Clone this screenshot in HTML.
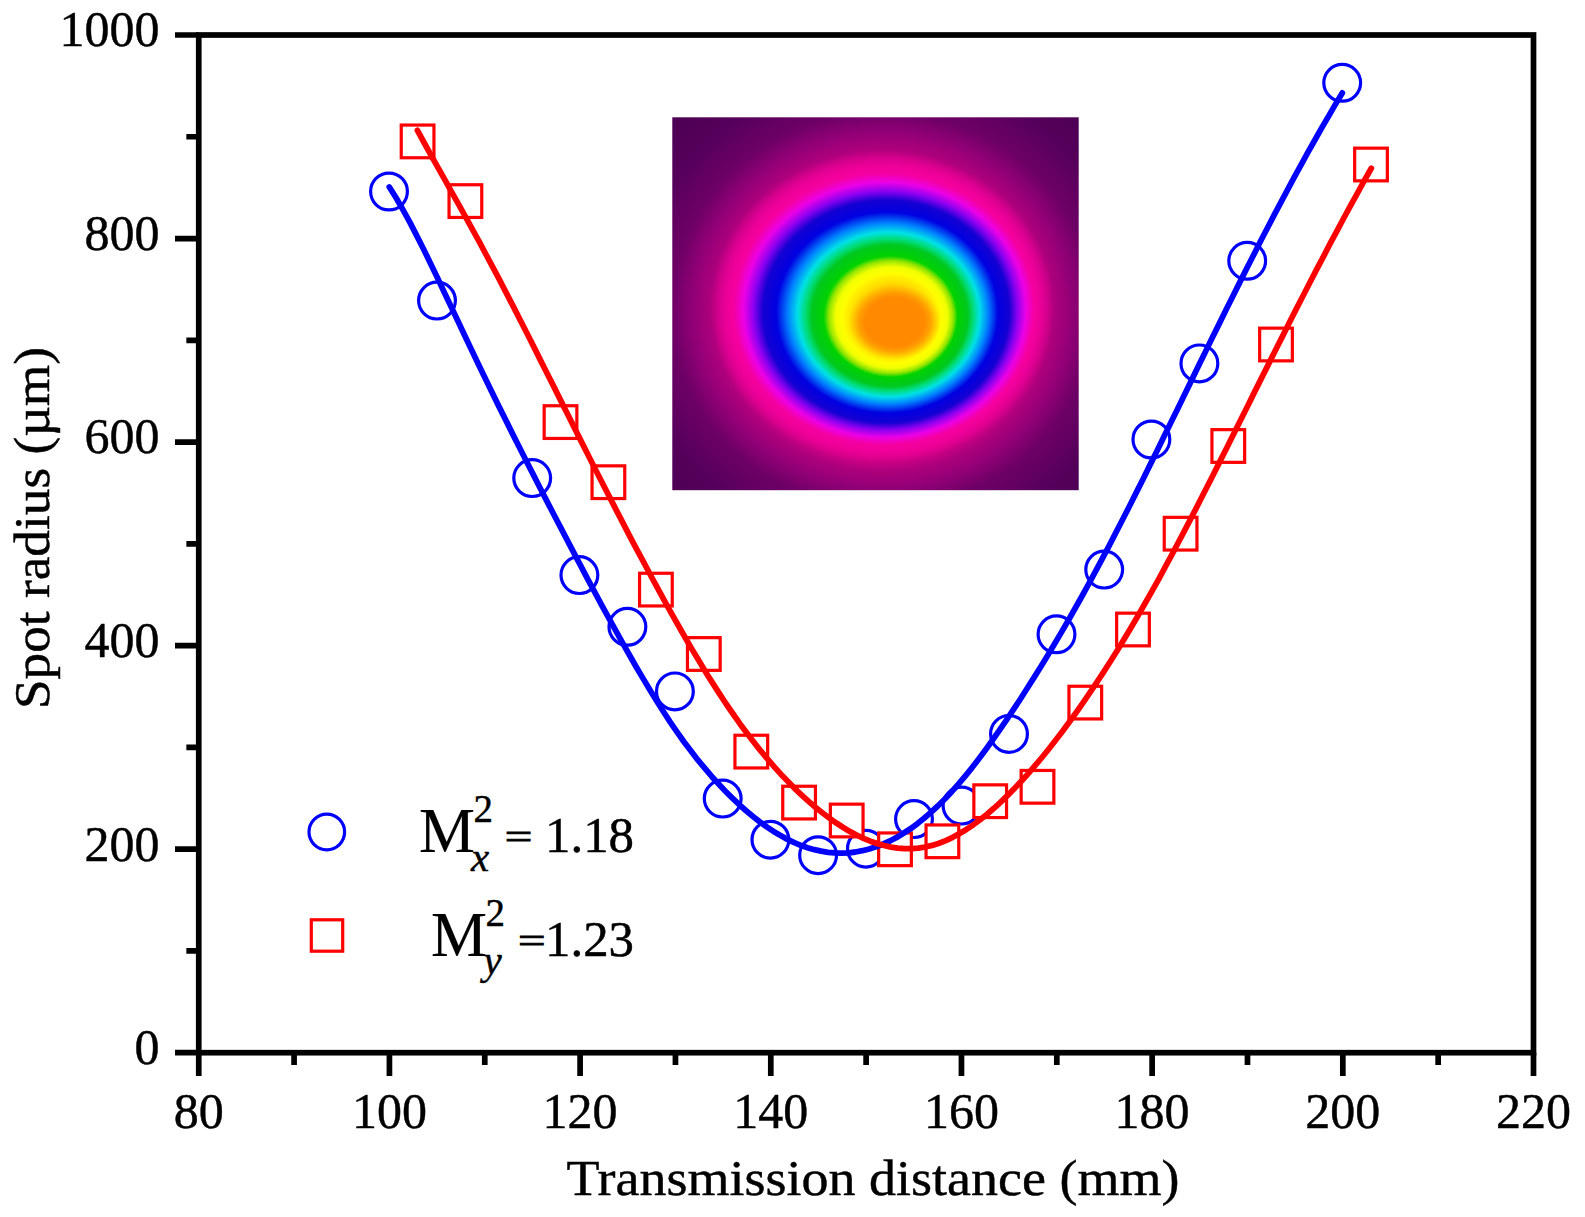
<!DOCTYPE html>
<html lang="en"><head><meta charset="utf-8"><title>Spot radius vs transmission distance</title>
<style>html,body{margin:0;padding:0;background:#fff}svg{display:block}text{font-family:"Liberation Serif",serif;fill:#000;stroke:#000;stroke-width:.45px}</style></head><body>
<svg width="1585" height="1217" viewBox="0 0 1585 1217">
<rect width="1585" height="1217" fill="#fff"/>
<defs>
<radialGradient id="beamo" gradientUnits="userSpaceOnUse" cx="0" cy="0" r="300" gradientTransform="translate(882.5,310) scale(1,0.94)">
<stop offset="0.0000" stop-color="#f500a0"/>
<stop offset="0.4767" stop-color="#f500a0"/>
<stop offset="0.5033" stop-color="#e6008c"/>
<stop offset="0.5300" stop-color="#d20087"/>
<stop offset="0.5700" stop-color="#af007d"/>
<stop offset="0.6333" stop-color="#910076"/>
<stop offset="0.7000" stop-color="#6e0066"/>
<stop offset="0.8333" stop-color="#55005a"/>
<stop offset="1.0000" stop-color="#4b0052"/>
</radialGradient>
<radialGradient id="beami" gradientUnits="userSpaceOnUse" cx="0" cy="0" r="300" fx="24" fy="30" gradientTransform="translate(872,295.5) scale(1,0.905)">
<stop offset="0.0000" stop-color="#ffbe00"/>
<stop offset="0.1133" stop-color="#ffc800"/>
<stop offset="0.1333" stop-color="#ffdc00"/>
<stop offset="0.1533" stop-color="#fff000"/>
<stop offset="0.1667" stop-color="#ffff00"/>
<stop offset="0.1867" stop-color="#f0ff00"/>
<stop offset="0.2067" stop-color="#96e600"/>
<stop offset="0.2233" stop-color="#00d200"/>
<stop offset="0.2600" stop-color="#00c81e"/>
<stop offset="0.2800" stop-color="#00dc78"/>
<stop offset="0.3033" stop-color="#00e1e6"/>
<stop offset="0.3333" stop-color="#0082ff"/>
<stop offset="0.3700" stop-color="#0000e1"/>
<stop offset="0.4100" stop-color="#1400d2"/>
<stop offset="0.4400" stop-color="#8c00f0"/>
<stop offset="0.4700" stop-color="#eb00e6"/>
<stop offset="0.5000" stop-color="#f500a0"/>
<stop offset="0.5267" stop-color="#f500a0" stop-opacity="0.6"/>
<stop offset="0.5733" stop-color="#f500a0" stop-opacity="0"/>
</radialGradient>
<radialGradient id="beamc" gradientUnits="userSpaceOnUse" cx="0" cy="0" r="46" gradientTransform="translate(894.6,322) scale(1,0.82)">
<stop offset="0.0000" stop-color="#ff8800"/>
<stop offset="0.6522" stop-color="#ff8a00"/>
<stop offset="0.7826" stop-color="#ff9600" stop-opacity="0.8"/>
<stop offset="1.0000" stop-color="#ffb400" stop-opacity="0"/>
</radialGradient>
</defs>
<rect x="672.3" y="117.3" width="406.4" height="372.9" fill="url(#beamo)"/>
<rect x="672.3" y="117.3" width="406.4" height="372.9" fill="url(#beami)"/>
<rect x="672.3" y="117.3" width="406.4" height="372.9" fill="url(#beamc)"/>
<g stroke="#000" stroke-width="5.7" fill="none" stroke-linecap="butt">
<rect x="198.75" y="35.0" width="1334.75" height="1017.7"/>
<path d="M175.00,1052.70H198.75M186.35,950.93H198.75M175.00,849.16H198.75M186.35,747.39H198.75M175.00,645.62H198.75M186.35,543.85H198.75M175.00,442.08H198.75M186.35,340.31H198.75M175.00,238.54H198.75M186.35,136.77H198.75M175.00,35.00H198.75M198.75,1052.70V1076.00M294.09,1052.70V1065.00M389.43,1052.70V1076.00M484.77,1052.70V1065.00M580.11,1052.70V1076.00M675.45,1052.70V1065.00M770.79,1052.70V1076.00M866.12,1052.70V1065.00M961.46,1052.70V1076.00M1056.80,1052.70V1065.00M1152.14,1052.70V1076.00M1247.48,1052.70V1065.00M1342.82,1052.70V1076.00M1438.16,1052.70V1065.00M1533.50,1052.70V1076.00"/>
</g>
<g font-size="50">
<text x="159.6" y="1064.0" text-anchor="end" textLength="25.0" lengthAdjust="spacingAndGlyphs">0</text>
<text x="159.6" y="860.5" text-anchor="end" textLength="75.0" lengthAdjust="spacingAndGlyphs">200</text>
<text x="159.6" y="656.9" text-anchor="end" textLength="75.0" lengthAdjust="spacingAndGlyphs">400</text>
<text x="159.6" y="453.4" text-anchor="end" textLength="75.0" lengthAdjust="spacingAndGlyphs">600</text>
<text x="159.6" y="249.8" text-anchor="end" textLength="75.0" lengthAdjust="spacingAndGlyphs">800</text>
<text x="159.6" y="46.3" text-anchor="end" textLength="100.0" lengthAdjust="spacingAndGlyphs">1000</text>
<text x="198.8" y="1127.6" text-anchor="middle" textLength="50.0" lengthAdjust="spacingAndGlyphs">80</text>
<text x="389.4" y="1127.6" text-anchor="middle" textLength="75.0" lengthAdjust="spacingAndGlyphs">100</text>
<text x="580.1" y="1127.6" text-anchor="middle" textLength="75.0" lengthAdjust="spacingAndGlyphs">120</text>
<text x="770.8" y="1127.6" text-anchor="middle" textLength="75.0" lengthAdjust="spacingAndGlyphs">140</text>
<text x="961.5" y="1127.6" text-anchor="middle" textLength="75.0" lengthAdjust="spacingAndGlyphs">160</text>
<text x="1152.1" y="1127.6" text-anchor="middle" textLength="75.0" lengthAdjust="spacingAndGlyphs">180</text>
<text x="1342.8" y="1127.6" text-anchor="middle" textLength="75.0" lengthAdjust="spacingAndGlyphs">200</text>
<text x="1533.5" y="1127.6" text-anchor="middle" textLength="75.0" lengthAdjust="spacingAndGlyphs">220</text>
</g>
<text x="873" y="1194.5" font-size="50.5" text-anchor="middle" textLength="613" lengthAdjust="spacingAndGlyphs">Transmission distance (mm)</text>
<text transform="translate(49.3,528) rotate(-90)" font-size="50.5" text-anchor="middle" textLength="362" lengthAdjust="spacingAndGlyphs">Spot radius (µm)</text>
<g fill="none" stroke="#0000ff" stroke-width="3.2">
<circle cx="389.0" cy="191.5" r="18.4"/>
<circle cx="437.0" cy="300.6" r="18.4"/>
<circle cx="532.2" cy="478.1" r="18.4"/>
<circle cx="579.4" cy="575.1" r="18.4"/>
<circle cx="627.4" cy="626.8" r="18.4"/>
<circle cx="674.9" cy="691.4" r="18.4"/>
<circle cx="722.7" cy="798.6" r="18.4"/>
<circle cx="770.4" cy="839.7" r="18.4"/>
<circle cx="818.1" cy="855.2" r="18.4"/>
<circle cx="865.9" cy="848.7" r="18.4"/>
<circle cx="914.0" cy="819.1" r="18.4"/>
<circle cx="961.5" cy="805.6" r="18.4"/>
<circle cx="1009.0" cy="733.9" r="18.4"/>
<circle cx="1056.5" cy="634.3" r="18.4"/>
<circle cx="1104.2" cy="569.6" r="18.4"/>
<circle cx="1151.4" cy="439.5" r="18.4"/>
<circle cx="1199.4" cy="363.4" r="18.4"/>
<circle cx="1247.2" cy="260.8" r="18.4"/>
<circle cx="1342.2" cy="82.8" r="18.4"/>
<circle cx="326.8" cy="832" r="17.8"/>
</g>
<g fill="#fff" stroke="#ff0000" stroke-width="3.2">
<rect x="401.25" y="125.05" width="32.7" height="32.7"/>
<rect x="449.05" y="184.75" width="32.7" height="32.7"/>
<rect x="544.15" y="405.75" width="32.7" height="32.7"/>
<rect x="592.05" y="465.85" width="32.7" height="32.7"/>
<rect x="639.55" y="573.25" width="32.7" height="32.7"/>
<rect x="687.45" y="637.65" width="32.7" height="32.7"/>
<rect x="734.95" y="735.25" width="32.7" height="32.7"/>
<rect x="782.75" y="786.25" width="32.7" height="32.7"/>
<rect x="830.35" y="804.15" width="32.7" height="32.7"/>
<rect x="878.65" y="832.95" width="32.7" height="32.7"/>
<rect x="926.05" y="824.95" width="32.7" height="32.7"/>
<rect x="973.85" y="784.85" width="32.7" height="32.7"/>
<rect x="1021.15" y="770.45" width="32.7" height="32.7"/>
<rect x="1068.95" y="686.25" width="32.7" height="32.7"/>
<rect x="1116.65" y="613.15" width="32.7" height="32.7"/>
<rect x="1164.25" y="517.35" width="32.7" height="32.7"/>
<rect x="1211.95" y="429.65" width="32.7" height="32.7"/>
<rect x="1259.65" y="328.15" width="32.7" height="32.7"/>
<rect x="1354.65" y="148.15" width="32.7" height="32.7"/>
<rect x="311.3" y="919.8" width="31.4" height="31.4"/>
</g>
<path d="M389.3,187.0 L396.2,198.0 L403.0,209.9 L409.9,222.4 L416.7,235.6 L423.6,249.2 L430.4,263.2 L437.3,277.4 L444.1,291.9 L451.0,306.4 L457.9,320.9 L464.7,335.5 L471.6,349.9 L478.4,364.3 L485.3,378.5 L492.1,392.6 L499.0,406.6 L505.9,420.4 L512.7,434.1 L519.6,447.7 L526.4,461.2 L533.3,474.6 L540.1,488.0 L547.0,501.3 L553.8,514.5 L560.7,527.7 L567.6,540.8 L574.4,553.9 L581.3,566.9 L588.1,579.8 L595.0,592.6 L601.8,605.3 L608.7,617.9 L615.6,630.4 L622.4,642.7 L629.3,654.8 L636.1,666.7 L643.0,678.4 L649.8,689.8 L656.7,701.0 L663.5,711.8 L670.4,722.3 L677.3,732.3 L684.1,742.0 L691.0,751.1 L697.8,759.9 L704.7,768.2 L711.5,776.2 L718.4,783.8 L725.2,791.0 L732.1,797.9 L739.0,804.4 L745.8,810.5 L752.7,816.3 L759.5,821.6 L766.4,826.6 L773.2,831.2 L780.1,835.3 L787.0,839.1 L793.8,842.4 L800.7,845.3 L807.5,847.7 L814.4,849.7 L821.2,851.2 L828.1,852.3 L834.9,852.9 L841.8,853.1 L848.7,852.8 L855.5,852.0 L862.4,850.7 L869.2,849.0 L876.1,846.8 L882.9,844.2 L889.8,841.0 L896.7,837.4 L903.5,833.3 L910.4,828.8 L917.2,823.8 L924.1,818.3 L930.9,812.4 L937.8,806.0 L944.6,799.2 L951.5,791.9 L958.4,784.2 L965.2,776.1 L972.1,767.6 L978.9,758.8 L985.8,749.5 L992.6,740.0 L999.5,730.2 L1006.4,720.2 L1013.2,709.9 L1020.1,699.5 L1026.9,688.8 L1033.8,677.9 L1040.6,666.9 L1047.5,655.7 L1054.3,644.3 L1061.2,632.6 L1068.1,620.8 L1074.9,608.8 L1081.8,596.5 L1088.6,584.1 L1095.5,571.4 L1102.3,558.6 L1109.2,545.6 L1116.0,532.4 L1122.9,519.0 L1129.8,505.5 L1136.6,491.9 L1143.5,478.2 L1150.3,464.4 L1157.2,450.5 L1164.0,436.5 L1170.9,422.5 L1177.8,408.5 L1184.6,394.4 L1191.5,380.4 L1198.3,366.3 L1205.2,352.3 L1212.0,338.3 L1218.9,324.4 L1225.7,310.5 L1232.6,296.7 L1239.5,282.9 L1246.3,269.3 L1253.2,255.8 L1260.0,242.3 L1266.9,229.0 L1273.7,215.8 L1280.6,202.8 L1287.5,189.9 L1294.3,177.2 L1301.2,164.6 L1308.0,152.2 L1314.9,140.0 L1321.7,127.9 L1328.6,116.1 L1335.4,104.4 L1342.3,92.9" fill="none" stroke="#0000ff" stroke-width="5.8" stroke-linecap="round" stroke-linejoin="round"/>
<path d="M417.4,130.4 L424.3,143.0 L431.1,155.4 L438.0,167.7 L444.9,179.9 L451.7,192.1 L458.6,204.4 L465.4,216.7 L472.3,229.2 L479.2,241.7 L486.0,254.5 L492.9,267.4 L499.8,280.4 L506.6,293.6 L513.5,306.9 L520.3,320.3 L527.2,333.8 L534.1,347.4 L540.9,361.1 L547.8,374.7 L554.7,388.4 L561.5,402.1 L568.4,415.8 L575.2,429.4 L582.1,443.1 L589.0,456.7 L595.8,470.2 L602.7,483.7 L609.6,497.1 L616.4,510.4 L623.3,523.6 L630.1,536.8 L637.0,549.8 L643.9,562.7 L650.7,575.5 L657.6,588.2 L664.5,600.8 L671.3,613.1 L678.2,625.3 L685.0,637.3 L691.9,649.1 L698.8,660.6 L705.6,671.9 L712.5,682.9 L719.4,693.6 L726.2,704.0 L733.1,714.0 L739.9,723.7 L746.8,733.0 L753.7,742.0 L760.5,750.6 L767.4,758.9 L774.3,766.8 L781.1,774.4 L788.0,781.6 L794.8,788.6 L801.7,795.1 L808.6,801.4 L815.4,807.3 L822.3,812.8 L829.2,818.0 L836.0,822.8 L842.9,827.3 L849.7,831.4 L856.6,835.0 L863.5,838.3 L870.3,841.2 L877.2,843.6 L884.1,845.5 L890.9,847.1 L897.8,848.1 L904.6,848.6 L911.5,848.6 L918.4,848.1 L925.2,847.0 L932.1,845.4 L939.0,843.2 L945.8,840.6 L952.7,837.3 L959.5,833.6 L966.4,829.4 L973.3,824.8 L980.1,819.7 L987.0,814.2 L993.9,808.3 L1000.7,802.1 L1007.6,795.4 L1014.4,788.5 L1021.3,781.2 L1028.2,773.6 L1035.0,765.7 L1041.9,757.5 L1048.8,749.0 L1055.6,740.3 L1062.5,731.3 L1069.3,722.0 L1076.2,712.5 L1083.1,702.7 L1089.9,692.7 L1096.8,682.4 L1103.7,671.9 L1110.5,661.2 L1117.4,650.2 L1124.2,638.9 L1131.1,627.4 L1138.0,615.7 L1144.8,603.8 L1151.7,591.6 L1158.6,579.3 L1165.4,566.7 L1172.3,553.9 L1179.1,541.0 L1186.0,527.9 L1192.9,514.7 L1199.7,501.3 L1206.6,487.8 L1213.5,474.3 L1220.3,460.6 L1227.2,447.0 L1234.0,433.2 L1240.9,419.5 L1247.8,405.7 L1254.6,391.9 L1261.5,378.1 L1268.4,364.4 L1275.2,350.7 L1282.1,337.1 L1288.9,323.5 L1295.8,309.9 L1302.7,296.5 L1309.5,283.2 L1316.4,269.9 L1323.3,256.8 L1330.1,243.7 L1337.0,230.8 L1343.8,218.0 L1350.7,205.3 L1357.6,192.8 L1364.4,180.4 L1371.3,168.2" fill="none" stroke="#ff0000" stroke-width="5.8" stroke-linecap="round" stroke-linejoin="round"/>
<text x="419" y="852" font-size="62.6" textLength="56" lengthAdjust="spacingAndGlyphs" style="stroke-width:.15px">M</text>
<text x="473.4" y="822" font-size="40.4" textLength="19.5" lengthAdjust="spacingAndGlyphs">2</text>
<text x="471" y="871" font-size="41" font-style="italic">x</text>
<text x="504.8" y="848.6" font-size="36" textLength="27.6" lengthAdjust="spacingAndGlyphs" style="stroke-width:.9px">=</text>
<text x="545" y="852.2" font-size="50" textLength="89" lengthAdjust="spacingAndGlyphs">1.18</text>
<text x="431" y="956" font-size="62.6" textLength="56" lengthAdjust="spacingAndGlyphs" style="stroke-width:.15px">M</text>
<text x="485.5" y="926" font-size="40.4" textLength="19.5" lengthAdjust="spacingAndGlyphs">2</text>
<text x="483.5" y="974" font-size="41" font-style="italic">y</text>
<text x="517.9" y="953.2" font-size="36" textLength="27.6" lengthAdjust="spacingAndGlyphs" style="stroke-width:.9px">=</text>
<text x="545" y="956.2" font-size="50" textLength="89" lengthAdjust="spacingAndGlyphs">1.23</text>
</svg></body></html>
